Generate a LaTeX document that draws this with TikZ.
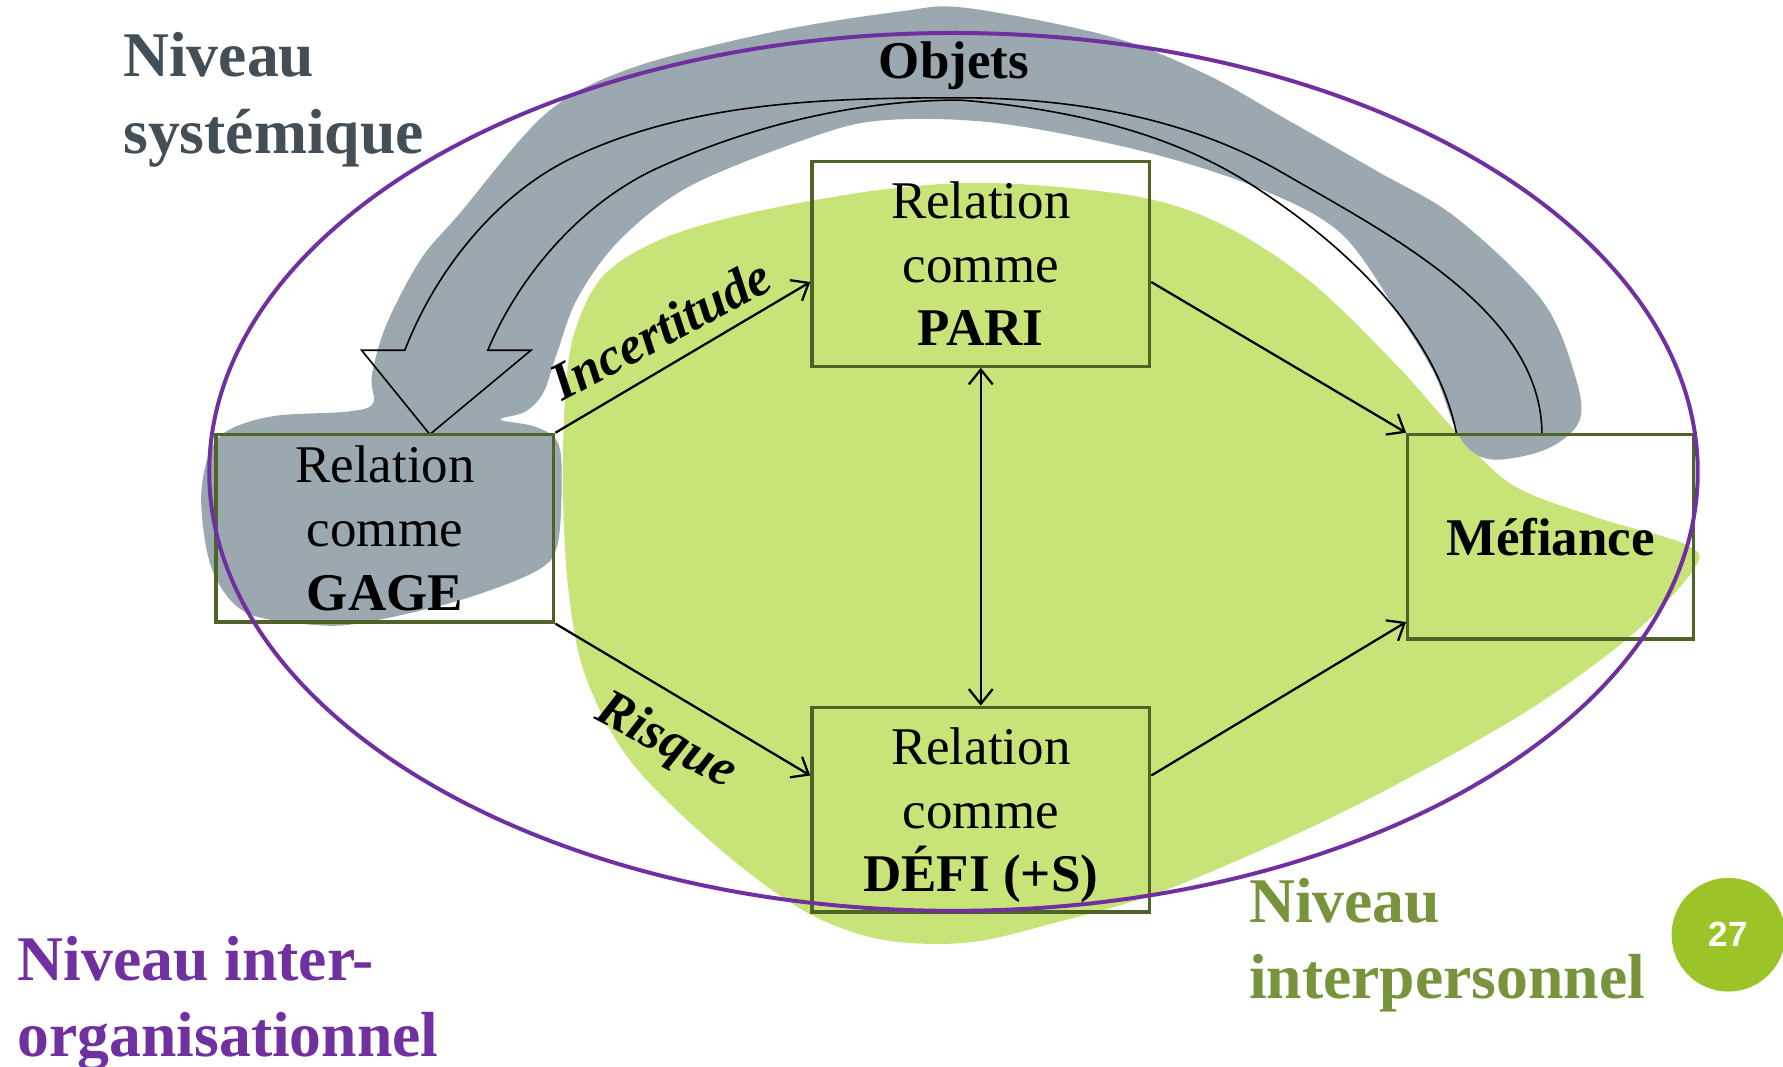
\documentclass[tikz,border=0pt]{standalone}
\usepackage{fontspec}
\setmainfont{Liberation Serif}
\newfontfamily\numfont{Liberation Sans}
\usetikzlibrary{arrows.meta}

\definecolor{boxline}{HTML}{4F6228}
\definecolor{orgpurple}{HTML}{7030A0}
\definecolor{sysgray}{HTML}{9BA8AF}
\definecolor{sysdark}{HTML}{434E56}
\definecolor{perslime}{HTML}{C8E478}
\definecolor{persolive}{HTML}{77933C}
\definecolor{pagegreen}{HTML}{9BC428}

\newcommand\bxfont{\fontsize{23.3}{28}\selectfont}
\newcommand\lvlfont{\fontsize{28}{33.5}\selectfont\bfseries}

\begin{document}
\begin{tikzpicture}[x=0.5pt, y=-0.5pt,
  >={Straight Barb[length=6.5pt,width=10.5pt]},
  relbox/.style={draw=boxline, line width=1.45pt, inner sep=0pt, align=center,
                 font=\bxfont, text depth=0pt, minimum width=148.5pt},
  link/.style={line width=1pt},
  lbl/.style={font=\bxfont\bfseries\itshape, inner sep=3pt},
  lvl/.style={font=\lvlfont, inner sep=0pt, anchor=base west}]
\useasboundingbox (0,0) rectangle (1568,938);

% interpersonal level (light green area)
\fill[perslime] plot[smooth cycle, tension=0.55] coordinates {
  (495,430) (497,350) (505,293) (530,243) (580,211) (656,188) (774,167)
  (875,161) (1001,173) (1078,199) (1154,249) (1229,322) (1281,380)
  (1331,427) (1407,456) (1483,479) (1490,500) (1432,561) (1332,632)
  (1179,715) (1027,782) (926,812) (850,829) (774,826) (707,801)
  (631,745) (555,670) (515,595) (500,520)};

% systemic level (grey band)
\fill[sysgray] plot[smooth cycle, tension=0.55] coordinates {
  (177,445) (182,405) (198,380) (240,366) (305,362) (328,355) (327,330)
  (340,285) (370,228) (404,188) (480,100) (555,60) (680,28) (792,10)
  (850,7) (976,32) (1060,65) (1128,103) (1210,150) (1280,191) (1356,264)
  (1385,330) (1389,370) (1360,395) (1311,404) (1284,385) (1262,330)
  (1232,280) (1179,205) (1103,164) (1001,132) (875,108) (774,106)
  (707,123) (606,164) (545,211) (508,262) (490,310) (478,345) (462,362)
  (440,369) (470,375) (490,388) (494,420) (490,480) (470,503) (404,528)
  (328,546) (283,550) (217,539) (187,502)};

% curved block arrow carrying the objects
\draw[line width=0.7pt, line join=miter]
  (1356,382) .. controls (1356,274) and (1221,206) .. (1128,152)
  .. controls (1044,103) and (941,86) .. (844,86)
  .. controls (730,86) and (608,89) .. (505,138)
  .. controls (437,170) and (383,238) .. (356,308)
  -- (318,308) -- (378,382) -- (467,308) -- (429,308)
  .. controls (457,241) and (513,177) .. (580,147)
  .. controls (662,110) and (754,88) .. (844,88)
  .. controls (934,95) and (1028,115) .. (1103,164)
  .. controls (1182,215) and (1263,290) .. (1281,382)
  -- cycle;

% relation boxes
\node[relbox, minimum height=82.5pt] (gage) at (338.5,464.5)
  {Relation\\comme\\\textbf{GAGE}};
\node[relbox, minimum height=90pt] (pari) at (862.5,232)
  {Relation\\comme\\\textbf{PARI}};
\node[relbox, minimum height=90pt] (defi) at (862.5,712)
  {Relation\\comme\\\textbf{DÉFI (+S)}};
\node[relbox, minimum height=90pt, minimum width=125.5pt,
      font=\bxfont\bfseries] (mef) at (1363.5,472) {Méfiance};

% links between relations
\draw[link, ->] (gage.north east)
  -- node[lbl, pos=0.48, sloped, above=4pt, rotate=-2.5] {Incertitude}
  ([yshift=-8pt]pari.west);
\draw[link, ->] (gage.south east)
  -- node[lbl, pos=0.52, sloped, below=6pt, rotate=3] {Risque}
  ([yshift=15pt]defi.west);
\draw[link, ->] ([yshift=-8pt]pari.east) -- (mef.north west);
\draw[link, ->] ([yshift=15pt]defi.east) -- ([yshift=-37.5pt]mef.west);
\draw[link, <->] (pari.south) -- (defi.north);

% inter-organisational level
\draw[orgpurple, line width=1.75pt] (838.5,415)
  ellipse [x radius=327.25pt, y radius=193pt];

% level labels
\node[font=\bxfont\bfseries, anchor=base] (obj) at (839,69) {Objets};
\node[lvl, text=sysdark] (sys1) at (108,67) {Niveau};
\node[lvl, text=sysdark] (sys2) at (108,135) {systémique};
\node[lvl, text=orgpurple] (org1) at (15,862) {Niveau inter-};
\node[lvl, text=orgpurple] (org2) at (15,929) {organisationnel};
\node[lvl, text=persolive] (per1) at (1098,811) {Niveau};
\node[lvl, text=persolive] (per2) at (1098,878) {interpersonnel};

% page number
\node[circle, fill=pagegreen, minimum size=50pt, inner sep=0pt, text=white,
      font=\numfont\bfseries\fontsize{15.4}{18}\selectfont] (page) at (1520,822) {27};
\end{tikzpicture}
\end{document}
